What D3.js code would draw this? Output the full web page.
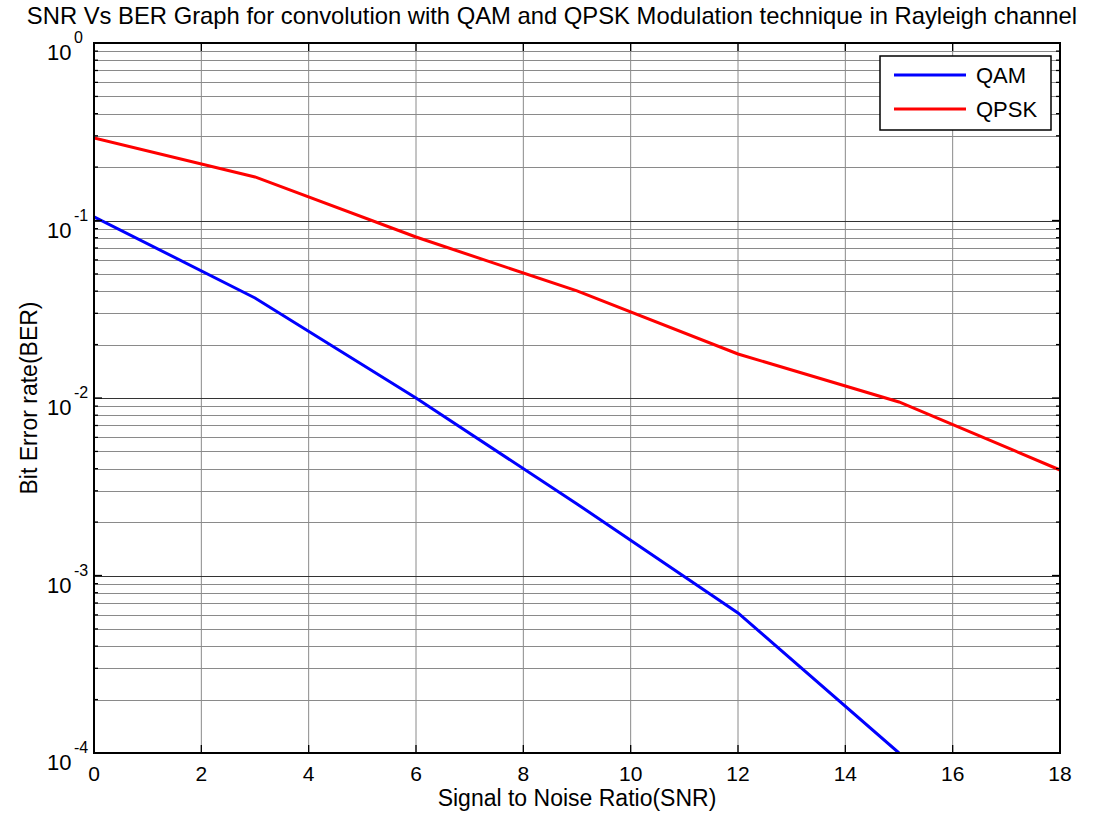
<!DOCTYPE html>
<html>
<head>
<meta charset="utf-8">
<script src="https://cdn.jsdelivr.net/npm/d3@7"></script>
<style>
  body { margin: 0; background: #fff; }
  text { font-family: "Liberation Sans", Arial, sans-serif; fill: #000; }
</style>
</head>
<body>
<script>
// values
var snr_qam  = [0, 3, 6, 9, 12, 15];
var ber_qam  = [0.105, 0.0366, 0.0100, 0.00253, 0.000615, 0.000100];
var snr_qpsk = [0, 3, 6, 9, 12, 15, 18];
var ber_qpsk = [0.292, 0.176, 0.0807, 0.0401, 0.0177, 0.0095, 0.00393];
var x_ticks = [0, 2, 4, 6, 8, 10, 12, 14, 16, 18];
var y_decades = [-4, -3, -2, -1, 0];
var series_names = ['QAM', 'QPSK'];
var series_colors = ['#0000ff', '#ff0000'];

var width = 1094, height = 820;
var left = 94, top_ = 43, right = 1060, bottom = 753;

var svg = d3.select('body').append('svg').attr('width', width).attr('height', height);

var x_scale = d3.scaleLinear().domain([0, 18]).range([left, right]);
var y_scale = d3.scaleLog().domain([1e-4, 1]).range([bottom, top_]);

// minor ticks: 2..9 times each decade
var y_minor = [];
for (var d = -4; d < 0; d++)
    for (var k = 2; k <= 9; k++)
        y_minor.push(k * Math.pow(10, d));
var y_major = y_decades.map(function(e) { return Math.pow(10, e); });

var grid = svg.append('g');
grid.selectAll('.vgrid').data(x_ticks).enter().append('line')
    .attr('x1', d => x_scale(d)).attr('x2', d => x_scale(d))
    .attr('y1', top_).attr('y2', bottom)
    .attr('stroke', '#8a8a8a').attr('stroke-width', 1);
grid.selectAll('.hminor').data(y_minor).enter().append('line')
    .attr('x1', left).attr('x2', right)
    .attr('y1', d => Math.round(y_scale(d)) + 0.5).attr('y2', d => Math.round(y_scale(d)) + 0.5)
    .attr('stroke', '#8a8a8a').attr('stroke-width', 1);
grid.selectAll('.hmajor').data(y_major).enter().append('line')
    .attr('x1', left).attr('x2', right)
    .attr('y1', d => Math.round(y_scale(d)) + 0.5).attr('y2', d => Math.round(y_scale(d)) + 0.5)
    .attr('stroke', '#333').attr('stroke-width', 1.2);

// data lines, clipped to the axes
svg.append('clipPath').attr('id', 'clip').append('rect')
    .attr('x', left).attr('y', top_).attr('width', right - left).attr('height', bottom - top_);

var line = d3.line().x(d => x_scale(d[0])).y(d => y_scale(d[1]));
var series = [d3.zip(snr_qam, ber_qam), d3.zip(snr_qpsk, ber_qpsk)];
svg.append('g').attr('clip-path', 'url(#clip)').selectAll('path').data(series).enter().append('path')
    .attr('d', line)
    .attr('fill', 'none')
    .attr('stroke', (d, i) => series_colors[i])
    .attr('stroke-width', 3);

// ticks (inward, all four sides)
var ticks = svg.append('g').attr('stroke', '#000').attr('stroke-width', 1.3);
x_ticks.forEach(function(t) {
    var x = x_scale(t);
    ticks.append('line').attr('x1', x).attr('x2', x).attr('y1', bottom).attr('y2', bottom - 8);
    ticks.append('line').attr('x1', x).attr('x2', x).attr('y1', top_).attr('y2', top_ + 8);
});
y_major.forEach(function(t) {
    var y = y_scale(t);
    ticks.append('line').attr('x1', left).attr('x2', left + 8).attr('y1', y).attr('y2', y);
    ticks.append('line').attr('x1', right).attr('x2', right - 8).attr('y1', y).attr('y2', y);
});
y_minor.forEach(function(t) {
    var y = y_scale(t);
    ticks.append('line').attr('x1', left).attr('x2', left + 4).attr('y1', y).attr('y2', y);
    ticks.append('line').attr('x1', right).attr('x2', right - 4).attr('y1', y).attr('y2', y);
});

// axes box
svg.append('rect').attr('x', left).attr('y', top_)
    .attr('width', right - left).attr('height', bottom - top_)
    .attr('fill', 'none').attr('stroke', '#000').attr('stroke-width', 2);

// tick labels
svg.selectAll('.xlab').data(x_ticks).enter().append('text')
    .attr('x', d => x_scale(d)).attr('y', bottom + 28)
    .attr('text-anchor', 'middle').attr('font-size', 21)
    .text(d => d);

var ylab = svg.selectAll('.ylab').data(y_decades).enter().append('g')
    .attr('transform', d => 'translate(' + (left - 47) + ',' + y_scale(Math.pow(10, d)) + ')');
ylab.append('text').attr('x', 0).attr('y', 17).attr('font-size', 22).text('10');
ylab.append('text').attr('x', 27).attr('y', 0).attr('font-size', 16).text(d => d);

// axis titles
svg.append('text').attr('x', 552).attr('y', 24)
    .attr('text-anchor', 'middle').attr('font-size', 23.8)
    .text('SNR Vs BER Graph for convolution with QAM and QPSK Modulation technique in Rayleigh channel');
svg.append('text').attr('x', (left + right) / 2).attr('y', 806)
    .attr('text-anchor', 'middle').attr('font-size', 23)
    .text('Signal to Noise Ratio(SNR)');
svg.append('text')
    .attr('transform', 'translate(37,' + ((top_ + bottom) / 2) + ') rotate(-90)')
    .attr('text-anchor', 'middle').attr('font-size', 23)
    .text('Bit Error rate(BER)');

// legend
var legend = svg.append('g').attr('transform', 'translate(880,56)');
legend.append('rect').attr('width', 171).attr('height', 74)
    .attr('fill', '#fff').attr('stroke', '#000').attr('stroke-width', 1.5);
series_names.forEach(function(name, i) {
    var y = 19 + i * 34;
    legend.append('line').attr('x1', 14).attr('x2', 86).attr('y1', y).attr('y2', y)
        .attr('stroke', series_colors[i]).attr('stroke-width', 3);
    legend.append('text').attr('x', 96).attr('y', y + 8).attr('font-size', 22).text(name);
});
</script>
</body>
</html>
